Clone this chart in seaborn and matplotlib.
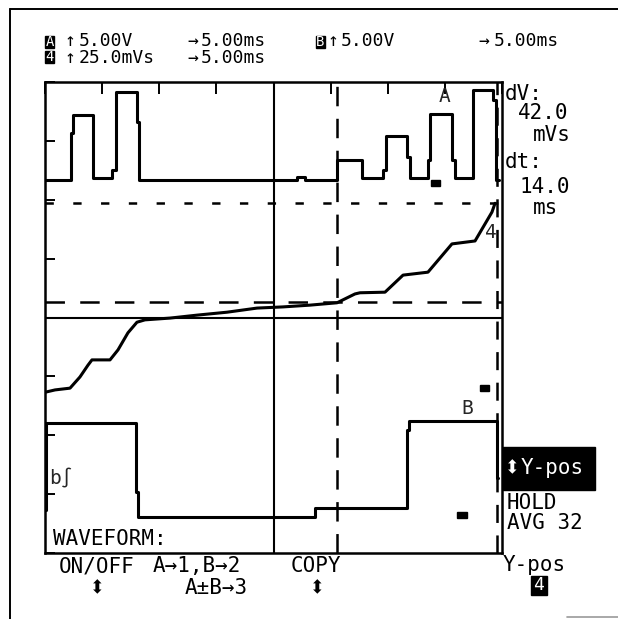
import numpy as np
import pandas as pd
import matplotlib
matplotlib.use("Agg")
import matplotlib.pyplot as plt
import seaborn as sns
from matplotlib.patches import Rectangle

# ---------------- data (time in ms, level in screen divisions) ----------------
a_t = [0.00, 2.28, 2.45, 4.20, 5.86, 6.21, 8.05, 8.23, 22.06, 22.76, 25.56, 27.75,
       29.58, 29.85, 31.68, 31.95, 33.52, 33.70, 35.62, 35.89, 37.46, 39.21, 39.47, 39.74]
a_v = [6.34, 7.13, 7.44, 6.37, 6.51, 7.83, 7.32, 6.34, 6.39, 6.34, 6.68, 6.37,
       6.51, 7.08, 6.73, 6.37, 6.68, 7.46, 6.68, 6.37, 7.86, 7.69, 6.34, 6.34]

m_t = [0.00, 0.88, 2.19, 3.06, 3.76, 4.11, 5.69, 6.39, 7.26, 8.05, 8.75, 10.94,
       13.30, 15.93, 18.56, 20.83, 23.19, 25.56, 27.13, 27.57, 29.76, 31.34, 33.52,
       35.62, 37.64, 39.12, 39.39]
m_v = [2.73, 2.77, 2.80, 2.99, 3.19, 3.28, 3.28, 3.45, 3.74, 3.92, 3.96, 3.99,
       4.04, 4.09, 4.16, 4.18, 4.21, 4.25, 4.40, 4.42, 4.43, 4.72, 4.77,
       5.25, 5.30, 5.79, 5.94]

b_t = [0.00, 0.10, 7.97, 8.10, 23.63, 31.68, 31.86, 39.56, 39.65]
b_v = [0.73, 2.21, 1.04, 0.61, 0.76, 2.09, 2.24, 1.27, 1.27]

cursor_t = [25.6, 39.6]
cursor_v = [4.26, 5.94]

marker_t = [34.2, 38.5, 36.5]
marker_v = [6.28, 2.81, 0.64]

# ---------------- figure ----------------
sns.set_theme(style="white")
plt.rcParams['font.family'] = ['DejaVu Sans Mono', 'DejaVu Sans']
plt.rcParams['lines.scale_dashes'] = False

W, H = 618, 619
fig = plt.figure(figsize=(W / 100, H / 100), dpi=100)
fig.patch.set_facecolor('white')

bg = fig.add_axes([0, 0, 1, 1])
bg.set_xlim(0, W); bg.set_ylim(H, 0); bg.axis('off')
bg.plot([10, W], [9, 9], color='black', lw=1.4)
bg.plot([10, 10], [9, H], color='black', lw=1.4)
bg.plot([567, W], [617, 617], color='#999999', lw=1.2)

ax = fig.add_axes([45 / W, (H - 553) / H, 457 / W, 471 / H])
ax.set_facecolor('white')

df_a = pd.DataFrame({'t': a_t, 'v': a_v})
df_m = pd.DataFrame({'t': m_t, 'v': m_v})
df_b = pd.DataFrame({'t': b_t, 'v': b_v})

ax.axhline(4, color='black', lw=1.5, zorder=1)
ax.axvline(20, color='black', lw=1.5, zorder=1)
ax.axvline(cursor_t[0], color='black', lw=1.8, dashes=(14, 9), zorder=1)
ax.axvline(cursor_t[1], color='black', lw=1.8, dashes=(13, 9), zorder=1)
ax.axhline(cursor_v[1], color='black', lw=1.8, dashes=(6, 14), zorder=1)
ax.axhline(cursor_v[0], color='black', lw=1.8, dashes=(14, 11), zorder=1)

sns.lineplot(data=df_a, x='t', y='v', ax=ax, color='black', lw=2.2,
             drawstyle='steps-post', estimator=None, sort=False)
sns.lineplot(data=df_m, x='t', y='v', ax=ax, color='black', lw=2.2,
             estimator=None, sort=False)
sns.lineplot(data=df_b, x='t', y='v', ax=ax, color='black', lw=2.2,
             drawstyle='steps-post', estimator=None, sort=False)

for mt, mv in zip(marker_t, marker_v):
    ax.add_patch(Rectangle((mt - 0.4, mv - 0.05), 0.8, 0.1, color='black', zorder=5))

ax.set_xlim(0, 40)
ax.set_ylim(0, 8)
ax.set_xticks(np.arange(0, 41, 5))
ax.set_yticks(np.arange(0, 9, 1))
ax.tick_params(axis='x', direction='in', top=True, bottom=False, labelbottom=False,
               length=8.6, width=1.4, color='black')
ax.tick_params(axis='y', direction='in', left=True, right=False, labelleft=False,
               length=7, width=1.4, color='black')
ax.set_xlabel(''); ax.set_ylabel('')
for s in ax.spines.values():
    s.set_color('black'); s.set_linewidth(1.8); s.set_visible(True)

tk = dict(fontsize=15, color='black', va='center', ha='left')
ax.text(35.0, 7.76, 'A', transform=ax.transData, ha='center', va='center', fontsize=14)
ax.text(39.0, 5.45, '4', transform=ax.transData, ha='center', va='center', fontsize=14)
ax.text(37.0, 2.46, 'B', transform=ax.transData, ha='center', va='center', fontsize=14)
ax.text(0.4, 1.27, 'b∫', transform=ax.transData, ha='left', va='center', fontsize=14)
ax.text(0.7, 0.23, 'WAVEFORM:', transform=ax.transData, **tk)

# ---------------- overlay text ----------------
ov = fig.add_axes([0, 0, 1, 1])
ov.set_xlim(0, W); ov.set_ylim(H, 0); ov.axis('off')
ov.patch.set_alpha(0)


def inv_box(x0, y0, w, h, s, fs=10):
    ov.add_patch(Rectangle((x0, y0), w, h, color='black'))
    ov.text(x0 + w / 2, y0 + h / 2, s, color='white', fontsize=fs,
            ha='center', va='center')


hk = dict(fontsize=13, color='black', va='center', ha='left')
y1, y2 = 41, 58
inv_box(45, 36, 9, 12, 'A')
ov.text(65, y1, '↑', **hk)
ov.text(79, y1, '5.00V', **hk)
ov.text(187, y1, '→', **hk)
ov.text(201, y1, '5.00ms', **hk)
inv_box(316, 36, 9, 12, 'B')
ov.text(328, y1, '↑', **hk)
ov.text(341, y1, '5.00V', **hk)
ov.text(478, y1, '→', **hk)
ov.text(494, y1, '5.00ms', **hk)
inv_box(45, 51, 9, 12, '4')
ov.text(65, y2, '↑', **hk)
ov.text(79, y2, '25.0mVs', **hk)
ov.text(187, y2, '→', **hk)
ov.text(201, y2, '5.00ms', **hk)

ov.text(505, 94, 'dV:', **tk)
ov.text(518, 113, '42.0', **tk)
ov.text(533, 135, 'mVs', **tk)
ov.text(505, 162, 'dt:', **tk)
ov.text(520, 187, '14.0', **tk)
ov.text(533, 208, 'ms', **tk)

ov.add_patch(Rectangle((503, 447), 92, 43, color='black'))
ov.text(512, 468, '⬍', color='white', fontsize=20, va='center', ha='center')
ov.text(521, 468, 'Y-pos', color='white', fontsize=15, va='center', ha='left')
ov.text(507, 503, 'HOLD', **tk)
ov.text(507, 523, 'AVG 32', **tk)

ov.text(59, 566, 'ON/OFF', **tk)
ov.text(97, 588, '⬍', fontsize=20, color='black', va='center', ha='center')
ov.text(153, 566, 'A→1,B→2', **tk)
ov.text(185, 588, 'A±B→3', **tk)
ov.text(291, 566, 'COPY', **tk)
ov.text(317, 588, '⬍', fontsize=20, color='black', va='center', ha='center')
ov.text(503, 565, 'Y-pos', **tk)
inv_box(531, 576, 16, 19, '4', fs=13)

fig.savefig('out.png', dpi=100, facecolor='white')
